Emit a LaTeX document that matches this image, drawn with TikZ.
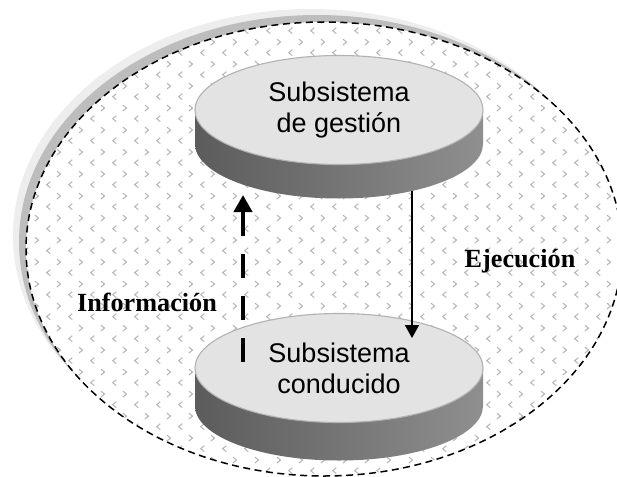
\documentclass[tikz,border=0pt]{standalone}
\usepackage{fontspec}
\setmainfont{Liberation Serif}
\newfontfamily\drumfont{Liberation Sans}
\usetikzlibrary{arrows.meta,patterns,shapes.geometric,calc}

% small grey chevrons "<" and ">" in staggered rows
\pgfdeclarepatternformonly{chevrons}{\pgfqpoint{0pt}{0pt}}{\pgfqpoint{21.6pt}{21.6pt}}{\pgfqpoint{21.6pt}{21.6pt}}{%
  \pgfsetlinewidth{1.1pt}%
  \pgfpathmoveto{\pgfqpoint{7.4pt}{8.4pt}}%
  \pgfpathlineto{\pgfqpoint{3.8pt}{5.4pt}}%
  \pgfpathlineto{\pgfqpoint{7.4pt}{2.4pt}}%
  \pgfusepath{stroke}%
  \pgfpathmoveto{\pgfqpoint{14.2pt}{19.2pt}}%
  \pgfpathlineto{\pgfqpoint{17.8pt}{16.2pt}}%
  \pgfpathlineto{\pgfqpoint{14.2pt}{13.2pt}}%
  \pgfusepath{stroke}%
}

\tikzset{
  shadowfar/.style={fill=black!7},
  shadownear/.style={fill=black!26},
  systemfill/.style={fill=white},
  systemdots/.style={pattern=chevrons, pattern color=black!28},
  systemedge/.style={draw=black, line width=1.5pt, dash pattern=on 7pt off 4.5pt},
  drumside/.style={left color=black!64, middle color=black!57, right color=black!44},
  drumface/.style={ellipse, fill=black!11, draw=black!30, line width=1.1pt,
    minimum width=288pt, minimum height=109pt, inner sep=0pt, align=center,
    font=\drumfont\fontsize{27}{31}\selectfont},
  flowlabel/.style={inner sep=0pt, font=\bfseries\fontsize{26.2}{30}\selectfont},
  execarrow/.style={line width=1.6pt, -{Triangle[length=13pt,width=14pt]}},
  infoarrow/.style={line width=4.2pt, dash pattern=on 24pt off 18pt,
    -{Triangle[length=17pt,width=18pt]}},
}

\begin{document}
\begin{tikzpicture}[x=1pt, y=-1pt]
  \useasboundingbox (0,0) rectangle (617,476);

  % enclosing system with its offset shadow
  \fill[shadowfar]  (311,236) ellipse [x radius=298pt, y radius=227pt];
  \fill[shadownear] (317,242) ellipse [x radius=298pt, y radius=227pt];
  \fill[systemfill] (324,249) ellipse [x radius=298pt, y radius=227pt];
  \fill[systemdots] (324,249) ellipse [x radius=298pt, y radius=227pt];
  \draw[systemedge] (324,249) ellipse [x radius=298pt, y radius=227pt];

  % drum centres
  \coordinate (gestC) at (339,110);
  \coordinate (condC) at (339,368);

  % drum sides
  \path[drumside] ([xshift=-144pt]gestC) -- ++(0,34)
    arc[start angle=180, end angle=360, x radius=144pt, y radius=54.5pt]
    -- ([xshift=144pt]gestC)
    arc[start angle=0, end angle=-180, x radius=144pt, y radius=54.5pt] -- cycle;
  \path[drumside] ([xshift=-144pt]condC) -- ++(0,38)
    arc[start angle=180, end angle=360, x radius=144pt, y radius=54.5pt]
    -- ([xshift=144pt]condC)
    arc[start angle=0, end angle=-180, x radius=144pt, y radius=54.5pt] -- cycle;

  % drum tops
  \node[drumface] (gest) at (gestC) {Subsistema\\de gestión};
  \node[drumface] (cond) at (condC) {Subsistema\\conducido};

  % flows
  \coordinate (ejecFrom) at (412,191);
  \coordinate (ejecTo)   at (412,338);
  \draw[execarrow] (ejecFrom) -- (ejecTo);

  \coordinate (infoFrom) at (243,362);
  \coordinate (infoTo)   at (243,195);
  \draw[infoarrow] (infoFrom) -- (infoTo);

  \node[flowlabel] (infoLbl) at (147,302) {Información};
  \node[flowlabel] (ejecLbl) at (520,261) {Ejecución};
\end{tikzpicture}
\end{document}
